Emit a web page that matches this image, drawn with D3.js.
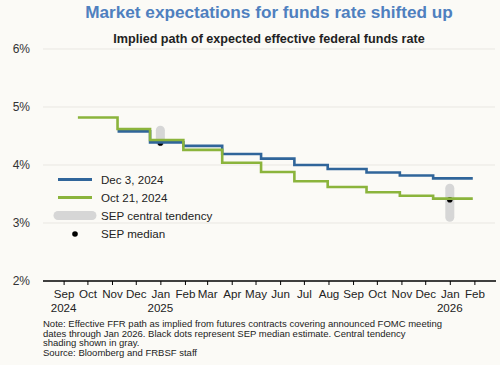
<!DOCTYPE html>
<html><head><meta charset="utf-8">
<script src="https://cdn.jsdelivr.net/npm/d3@7"></script>
<style>
html,body{margin:0;padding:0;background:#fbfaf6;}
svg{display:block;font-family:"Liberation Sans",Arial,sans-serif;}
</style></head>
<body><svg id="c" width="500" height="365"></svg>
<script>
// ---- data ----
const stepDates = ["2024-09-19","2024-11-08","2024-12-19","2025-01-30","2025-03-20","2025-05-08","2025-06-19","2025-07-31","2025-09-18","2025-10-30","2025-12-11","2026-01-30"];
const oct21 = [4.82,4.62,4.43,4.26,4.04,3.88,3.72,3.62,3.53,3.47,3.42,3.42];
const dec3  = [null,4.58,4.39,4.33,4.19,4.11,4.00,3.93,3.87,3.82,3.77,3.77];
const sepDates = ["2025-01-01","2026-01-01"];
const sepMedian = [4.38,3.40];
const sepLow = [4.4,3.1];
const sepHigh = [4.6,3.6];
const yTicks = [2,3,4,5,6];
const yearTickDates = ["2024-09-01","2025-01-01","2026-01-01"];
const yearTickLabels = ["2024","2025","2026"];
const seriesNames = ["Dec 3, 2024","Oct 21, 2024"];
const noteLines = [
 "Note: Effective FFR path as implied from futures contracts covering announced FOMC meeting",
 "dates through Jan 2026. Black dots represent SEP median estimate. Central tendency",
 "shading shown in gray.",
 "Source: Bloomberg and FRBSF staff"
];

const parse = d3.timeParse("%Y-%m-%d");
const svg = d3.select("#c");
const blue = "#30659a", green = "#8bb43c", gray = "#d6d6d6";

const x = d3.scaleTime().domain([parse("2024-08-06"), parse("2026-02-27")]).range([43, 495]);
const y = d3.scaleLinear().domain([2,6]).range([281,49]);

// title
svg.append("text").attr("x",269).attr("y",18).attr("text-anchor","middle")
  .attr("font-size",17.2).attr("font-weight","bold").attr("fill","#4f80bf")
  .text("Market expectations for funds rate shifted up");
svg.append("text").attr("x",269).attr("y",43).attr("text-anchor","middle")
  .attr("font-size",12.6).attr("font-weight","bold").attr("fill","#222")
  .text("Implied path of expected effective federal funds rate");

// gridlines
svg.append("g").selectAll("line").data(yTicks.filter(d=>d>2)).join("line")
  .attr("x1",43).attr("x2",495).attr("y1",d=>y(d)).attr("y2",d=>y(d))
  .attr("stroke","#e9e7e2").attr("stroke-width",1);

// y axis labels
const yAxis = d3.axisLeft(y).tickValues(yTicks).tickFormat(d=>d+"%").tickSize(0).tickPadding(0);
const gy = svg.append("g").attr("transform","translate(30,0)").call(yAxis);
gy.select(".domain").remove();
gy.selectAll("text").attr("font-size",12).attr("fill","#333").attr("font-family","Liberation Sans, Arial, sans-serif");

// x axis
const months = d3.timeMonth.range(parse("2024-09-01"), parse("2026-03-01"));
const xAxis = d3.axisBottom(x).tickValues(months).tickFormat(d3.timeFormat("%b")).tickSize(4).tickPadding(5);
const gx = svg.append("g").attr("transform","translate(0,281)").call(xAxis);
gx.select(".domain").remove();
gx.selectAll(".tick line").attr("stroke","#000").attr("stroke-width",1);
gx.selectAll("text").attr("font-size",11.6).attr("fill","#222").attr("font-family","Liberation Sans, Arial, sans-serif");
svg.append("line").attr("x1",43).attr("x2",496).attr("y1",281).attr("y2",281).attr("stroke","#000").attr("stroke-width",1.6);
svg.append("g").selectAll("text").data(yearTickDates).join("text")
  .attr("x",d=>x(parse(d))).attr("y",312).attr("text-anchor","middle")
  .attr("font-size",11.6).attr("fill","#222").text((d,i)=>yearTickLabels[i]);

// SEP central tendency bars
svg.append("g").selectAll("line").data(sepDates).join("line")
  .attr("x1",d=>x(parse(d))).attr("x2",d=>x(parse(d)))
  .attr("y1",(d,i)=>y(sepHigh[i])).attr("y2",(d,i)=>y(sepLow[i]))
  .attr("stroke",gray).attr("stroke-width",9).attr("stroke-linecap","round");
// SEP medians
svg.append("g").selectAll("circle").data(sepDates).join("circle")
  .attr("cx",d=>x(parse(d))).attr("cy",(d,i)=>y(sepMedian[i])).attr("r",2.8).attr("fill","#000");

// step lines
const line = d3.line().defined(d=>d.v!=null).x(d=>x(d.t)).y(d=>y(d.v)).curve(d3.curveStepAfter);
const mk = arr => stepDates.map((d,i)=>({t:parse(d),v:arr[i]}));
svg.append("path").datum(mk(dec3)).attr("d",line).attr("fill","none").attr("stroke",blue).attr("stroke-width",2.6);
svg.append("path").datum(mk(oct21)).attr("d",line).attr("fill","none").attr("stroke",green).attr("stroke-width",2.6);

// legend
const lg = svg.append("g");
lg.append("line").attr("x1",58).attr("x2",92).attr("y1",179.5).attr("y2",179.5).attr("stroke",blue).attr("stroke-width",2.8);
lg.append("line").attr("x1",58).attr("x2",92).attr("y1",197.5).attr("y2",197.5).attr("stroke",green).attr("stroke-width",2.8);
lg.append("line").attr("x1",58).attr("x2",92).attr("y1",215.5).attr("y2",215.5).attr("stroke",gray).attr("stroke-width",9).attr("stroke-linecap","round");
lg.append("circle").attr("cx",75).attr("cy",234).attr("r",2.8).attr("fill","#000");
const legendLabels = [seriesNames[0], seriesNames[1], "SEP central tendency", "SEP median"];
lg.selectAll("text").data(legendLabels).join("text")
  .attr("x",101).attr("y",(d,i)=>184+i*18).attr("font-size",11.6).attr("fill","#222").text(d=>d);

// note
svg.append("g").selectAll("text").data(noteLines).join("text")
  .attr("x",43).attr("y",(d,i)=>327+i*9.7).attr("font-size",9.5).attr("fill","#222").text(d=>d);
</script></body></html>
